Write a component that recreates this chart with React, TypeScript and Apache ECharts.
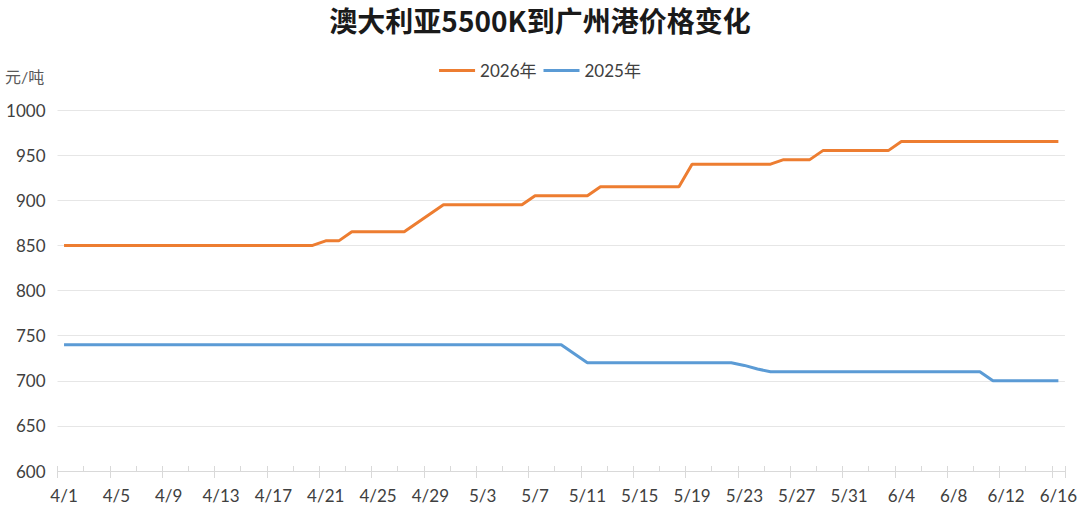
import React, { useEffect, useRef } from "react";
import * as echarts from "echarts";

const titleText = "澳大利亚5500K到广州港价格变化";
const unitText = "元/吨";
const seriesNames = ["2026年", "2025年"];

const categories = [
  "4/1","4/2","4/3","4/4","4/5","4/6","4/7","4/8","4/9","4/10",
  "4/11","4/12","4/13","4/14","4/15","4/16","4/17","4/18","4/19","4/20",
  "4/21","4/22","4/23","4/24","4/25","4/26","4/27","4/28","4/29","4/30",
  "5/1","5/2","5/3","5/4","5/5","5/6","5/7","5/8","5/9","5/10",
  "5/11","5/12","5/13","5/14","5/15","5/16","5/17","5/18","5/19","5/20",
  "5/21","5/22","5/23","5/24","5/25","5/26","5/27","5/28","5/29","5/30",
  "5/31","6/1","6/2","6/3","6/4","6/5","6/6","6/7","6/8","6/9",
  "6/10","6/11","6/12","6/13","6/14","6/15","6/16",
];

const values2026 = [
  850,850,850,850,850,850,850,850,850,850,
  850,850,850,850,850,850,850,850,850,850,
  855,855,865,865,865,865,865,875,885,895,
  895,895,895,895,895,895,905,905,905,905,
  905,915,915,915,915,915,915,915,940,940,
  940,940,940,940,940,945,945,945,955,955,
  955,955,955,955,965,965,965,965,965,965,
  965,965,965,965,965,965,965,
];

const values2025 = [
  740,740,740,740,740,740,740,740,740,740,
  740,740,740,740,740,740,740,740,740,740,
  740,740,740,740,740,740,740,740,740,740,
  740,740,740,740,740,740,740,740,740,730,
  720,720,720,720,720,720,720,720,720,720,
  720,720,717,713,710,710,710,710,710,710,
  710,710,710,710,710,710,710,710,710,710,
  710,700,700,700,700,700,700,
];

const yMin = 600;
const yMax = 1000;
const yStep = 50;

const FONT = "Lato, 'Noto Sans CJK SC', sans-serif";

export default function App() {
  const ref = useRef<HTMLDivElement>(null);
  useEffect(() => {
    if (!ref.current) return;
    const chart = echarts.init(ref.current, undefined, { renderer: "svg" });
    chart.setOption({
      animation: false,
      backgroundColor: "#ffffff",
      title: {
        text: titleText,
        left: "center",
        top: -1,
        textStyle: {
          fontSize: 28,
          fontWeight: "bold",
          color: "#1a1a1a",
          fontFamily: "'Noto Sans CJK SC', Lato, sans-serif",
          lineHeight: 32,
        },
      },
      legend: {
        top: 57,
        left: "center",
        icon: "rect",
        itemWidth: 36,
        itemHeight: 3,
        itemGap: 7,
        textStyle: { fontSize: 17, color: "#404040", fontFamily: FONT },
        data: seriesNames,
      },
      graphic: [
        {
          type: "text",
          left: 5,
          top: 68,
          style: { text: unitText, fontSize: 16, fill: "#595959", fontFamily: FONT },
        },
      ],
      grid: { left: 57.5, right: 14.5, top: 110, bottom: 41 },
      xAxis: [
        {
          type: "category",
          data: categories,
          boundaryGap: true,
          position: "bottom",
          axisLine: { show: true, onZero: false, lineStyle: { color: "#D9D9D9", width: 1 } },
          axisTick: { show: true, interval: 3, length: 7, lineStyle: { color: "#D9D9D9" } },
          axisLabel: { interval: 3, margin: 16, fontSize: 17, color: "#404040", fontFamily: FONT },
          splitLine: { show: false },
        },
        {
          type: "category",
          data: categories,
          boundaryGap: true,
          position: "bottom",
          axisLine: { show: false, onZero: false },
          axisTick: { show: true, inside: true, interval: 1, length: 5, lineStyle: { color: "#D9D9D9" } },
          axisLabel: { show: false },
          splitLine: { show: false },
        },
      ],
      yAxis: {
        type: "value",
        min: yMin,
        max: yMax,
        interval: yStep,
        axisLine: { show: false },
        axisTick: { show: false },
        axisLabel: {
          margin: 12,
          fontSize: 17,
          color: "#404040",
          fontFamily: FONT,
          formatter: (v: number) => String(v),
        },
        splitLine: { lineStyle: { color: "#E6E6E6", width: 1 } },
      },
      series: [
        {
          name: seriesNames[0],
          type: "line",
          xAxisIndex: 0,
          data: values2026,
          symbol: "none",
          lineStyle: { color: "#ED7D31", width: 3 },
          itemStyle: { color: "#ED7D31" },
        },
        {
          name: seriesNames[1],
          type: "line",
          xAxisIndex: 0,
          data: values2025,
          symbol: "none",
          lineStyle: { color: "#5B9BD5", width: 3 },
          itemStyle: { color: "#5B9BD5" },
        },
      ],
    });
    return () => chart.dispose();
  }, []);
  return (
    <div
      ref={ref}
      style={{ position: "fixed", left: 0, top: 0, width: 1080, height: 512 }}
    />
  );
}
